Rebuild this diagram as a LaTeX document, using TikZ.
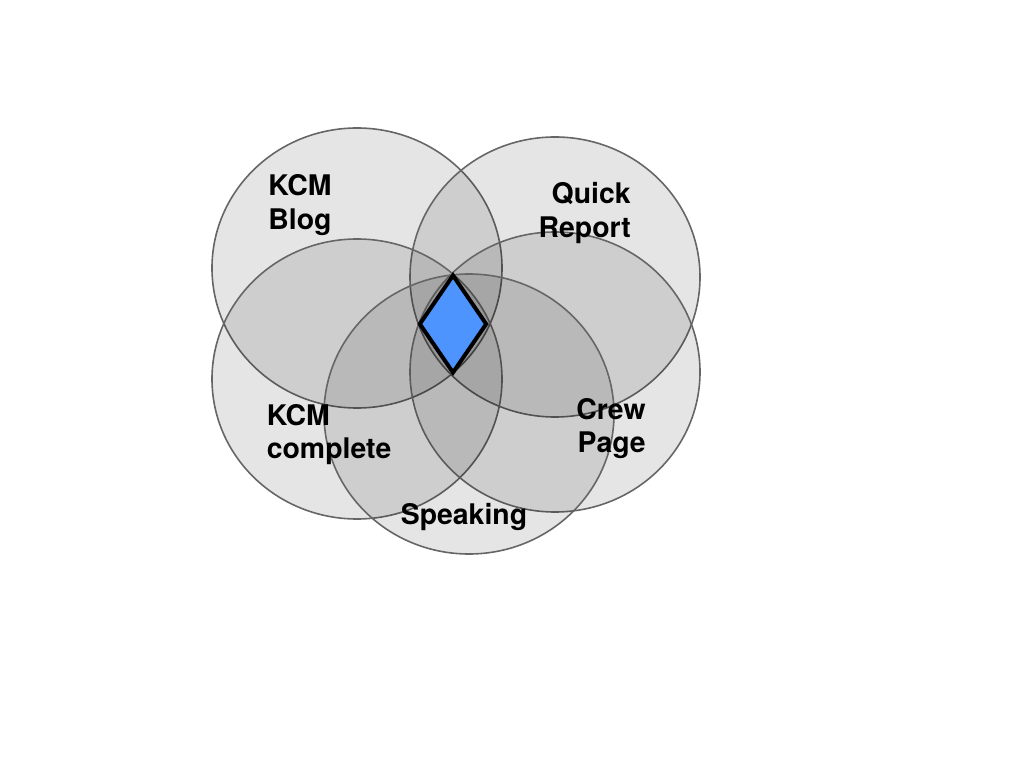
\documentclass[tikz,border=0pt]{standalone}
\usepackage{fontspec}
\setmainfont{TeX Gyre Heros}
\usetikzlibrary{shapes.geometric}
\definecolor{coreblue}{RGB}{77,148,255}
\begin{document}
\begin{tikzpicture}[x=0.75pt, y=0.75pt, venn node/.style={ellipse,draw=black!60,line width=1.2pt,fill=black,fill opacity=0.1,minimum width=217.5pt,minimum height=210pt,inner sep=0pt},core/.style={diamond,draw=black,line width=3pt,fill=coreblue,minimum width=51pt,minimum height=74pt,inner sep=0pt}]
\useasboundingbox (0,0) rectangle (1024,768);
\begin{scope}
\node[venn node] (blog) at (357,500) {};
\node[venn node] (quick) at (555,491) {};
\node[venn node] (complete) at (357,389) {};
\node[venn node] (crew) at (555,396) {};
\node[venn node] (speak) at (469,354) {};
\end{scope}
\begin{scope}[every node/.style={font=\fontsize{21.3}{25}\selectfont\bfseries,inner sep=0pt}]
\node[align=center] (tblog) at (300,563) {KCM\\Blog};
\node[align=right,anchor=east] (tquick) at (631,555) {Quick\\Report};
\node[align=left,anchor=west] (tcomplete) at (266.5,333.5) {KCM\\complete};
\node[align=right,anchor=east] (tcrew) at (646,339.5) {Crew\\Page};
\node (tspeak) at (464,251) {Speaking};
\end{scope}
\node[core] (hub) at (453,444) {};
\end{tikzpicture}
\end{document}
